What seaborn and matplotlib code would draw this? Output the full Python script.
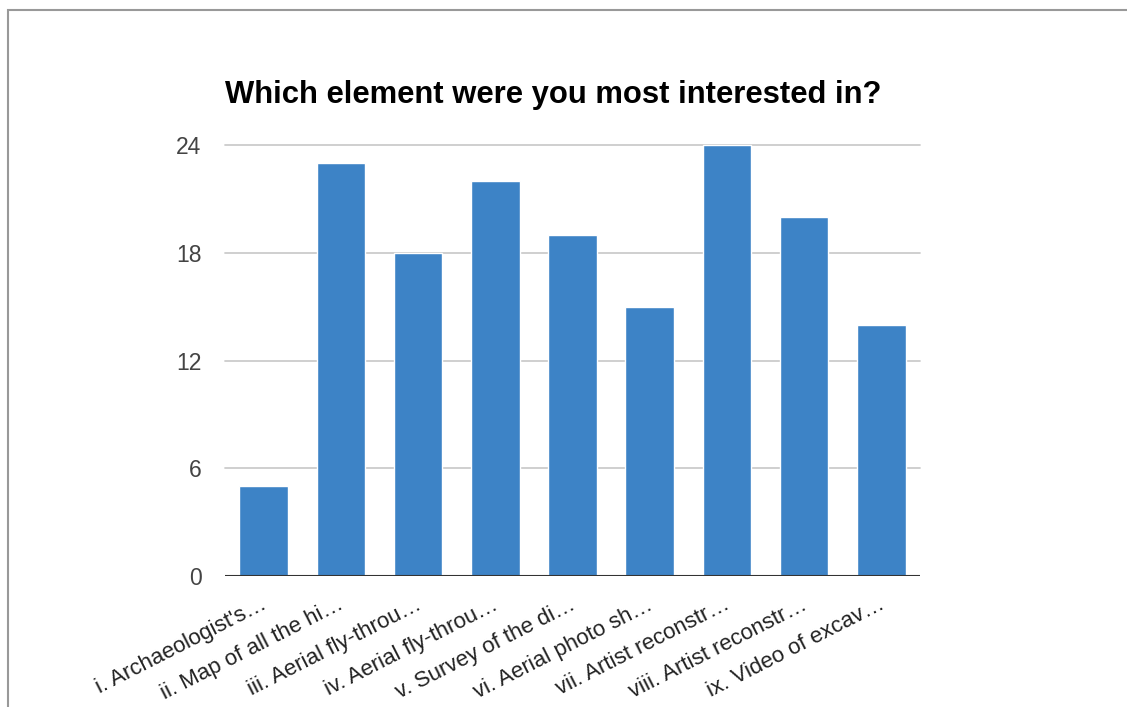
import matplotlib
matplotlib.use("Agg")
import matplotlib.pyplot as plt
import matplotlib.transforms as mtransforms
import seaborn as sns
import pandas as pd
from matplotlib.patches import Rectangle

categories = [
    "i. Archaeologist's\u2026",
    "ii. Map of all the hi\u2026",
    "iii. Aerial fly-throu\u2026",
    "iv. Aerial fly-throu\u2026",
    "v. Survey of the di\u2026",
    "vi. Aerial photo sh\u2026",
    "vii. Artist reconstr\u2026",
    "viii. Artist reconstr\u2026",
    "ix. Video of excav\u2026",
]
counts = [5, 23, 18, 22, 19, 15, 24, 20, 14]
y_ticks = [0, 6, 12, 18, 24]
title = "Which element were you most interested in?"

sns.set_theme(style="white")
plt.rcParams["font.family"] = ["Liberation Sans", "DejaVu Sans"]

df = pd.DataFrame({"category": categories, "count": counts})

fig = plt.figure(figsize=(11.27, 7.07), dpi=100)
ax = fig.add_axes([225 / 1127, 1 - 576 / 707, 695 / 1127, (576 - 145) / 707])

sns.barplot(data=df, x="category", y="count", color="#3d83c6", saturation=1,
            width=0.63, ax=ax, zorder=3)
for p in ax.patches:
    p.set_clip_on(False)

ax.set_xlim(-0.5, len(categories) - 0.5)
ax.set_ylim(0, 24)
ax.set_yticks(y_ticks)
ax.set_yticklabels([str(v) for v in y_ticks], fontsize=16.5, color="#444444")
ax.tick_params(axis="y", length=0, pad=17)
ax.tick_params(axis="x", length=0, pad=13)
ax.set_xticks(range(len(categories)))
ax.set_xticklabels(categories, rotation=27, ha="right", va="top",
                   rotation_mode="anchor", fontsize=16, color="#222222")
offset = mtransforms.ScaledTranslation(-3 / 100, 0, fig.dpi_scale_trans)
for lbl in ax.get_xticklabels():
    lbl.set_transform(lbl.get_transform() + offset)
ax.set_xlabel("")
ax.set_ylabel("")
for v in y_ticks[1:]:
    ax.axhline(v, color="#cccccc", lw=1.3, zorder=1, clip_on=False)
ax.axhline(0, color="#333333", lw=1.5, zorder=4)
for s in ax.spines.values():
    s.set_visible(False)

fig.text(225 / 1127, 1 - 103 / 707, title, fontsize=22.3, fontweight="bold",
         color="#000000", ha="left", va="baseline")

# outer border (partially visible, like a cropped chart frame)
fig.patches.append(Rectangle((8 / 1127, -0.1), 1.2, (707 - 10) / 707 + 0.1,
                             transform=fig.transFigure, fill=False,
                             edgecolor="#999999", lw=1.5))

fig.savefig("out.png", dpi=100, facecolor="white")
